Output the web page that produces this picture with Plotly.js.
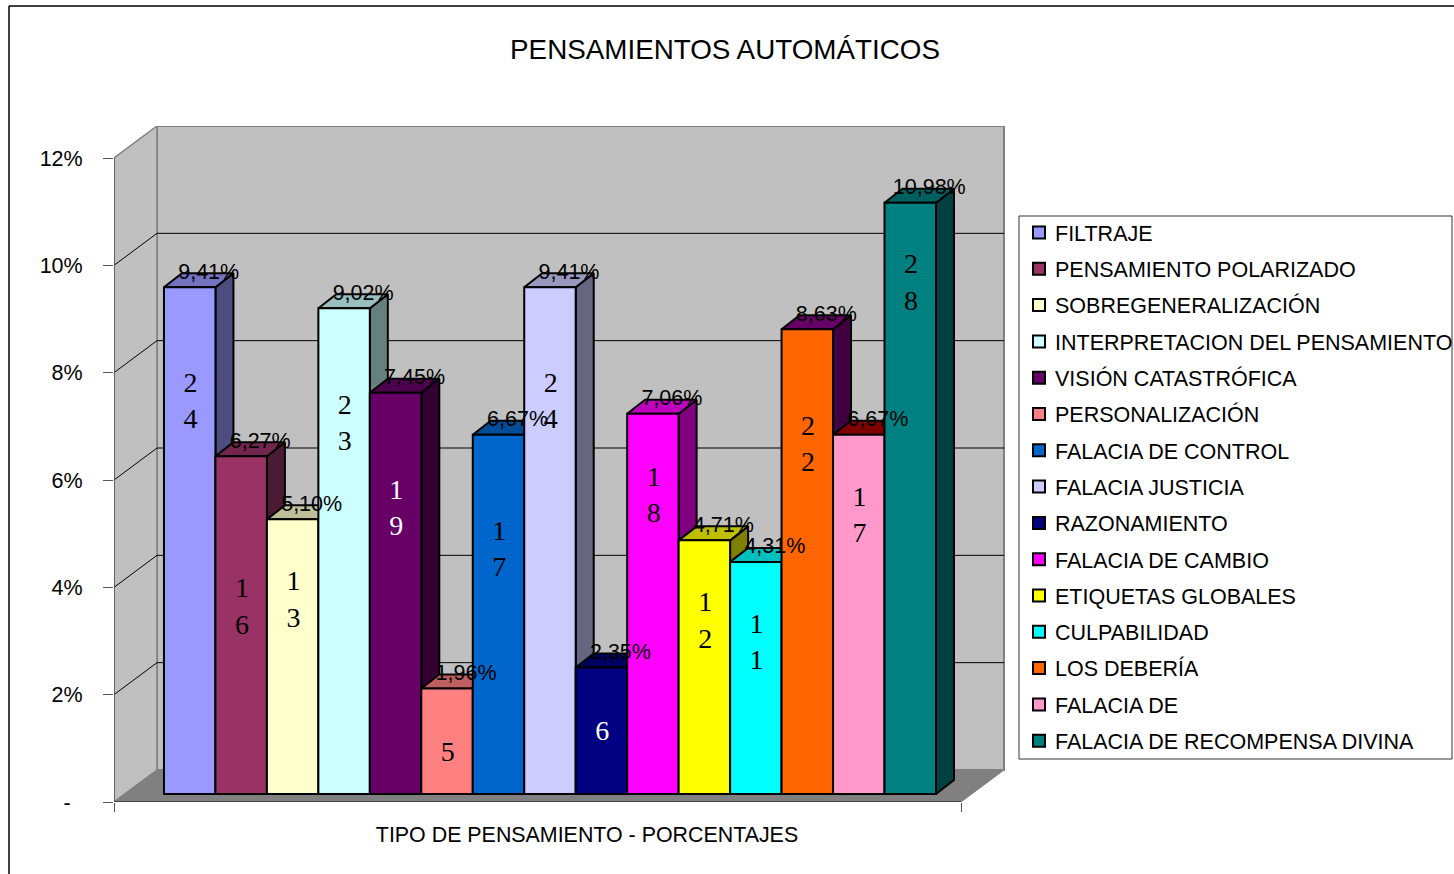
<!DOCTYPE html>
<html>
<head>
<meta charset="utf-8">
<script src="https://cdn.plot.ly/plotly-3.0.1.min.js"></script>
<style>html,body{margin:0;padding:0;background:#fff}#chart{width:1454px;height:874px}</style>
</head>
<body>
<div id="chart"></div>
<script>
// ---------- data ----------
const categories = ["FILTRAJE","PENSAMIENTO POLARIZADO","SOBREGENERALIZACIÓN","INTERPRETACION DEL PENSAMIENTO","VISIÓN CATASTRÓFICA","PERSONALIZACIÓN","FALACIA DE CONTROL","FALACIA JUSTICIA","RAZONAMIENTO","FALACIA DE CAMBIO","ETIQUETAS GLOBALES","CULPABILIDAD","LOS DEBERÍA","FALACIA DE","FALACIA DE RECOMPENSA DIVINA"];
const percentages = [9.41,6.27,5.10,9.02,7.45,1.96,6.67,9.41,2.35,7.06,4.71,4.31,8.63,6.67,10.98];
const counts = [24,16,13,23,19,5,17,24,6,18,12,11,22,17,28];
const percentLabels = ["9,41%","6,27%","5,10%","9,02%","7,45%","1,96%","6,67%","9,41%","2,35%","7,06%","4,71%","4,31%","8,63%","6,67%","10,98%"];
const yTickValues = [0,2,4,6,8,10,12];
const yTickLabels = ["-\u00a0\u00a0","2%","4%","6%","8%","10%","12%"];
const xAxisTitle = "TIPO DE PENSAMIENTO - PORCENTAJES";
const chartTitle = "PENSAMIENTOS AUTOMÁTICOS";

// ---------- styles ----------
const frontColors = ["#9999FF","#993366","#FFFFCC","#CCFFFF","#660066","#FF8080","#0066CC","#CCCCFF","#000080","#FF00FF","#FFFF00","#00FFFF","#FF6600","#FF99CC","#008080"];
const topOverride = {12:"#660066",13:"#800000"};
const sideOverride = {12:"#400040"};
const lightCounts = [4,8];
const countDrop = [116,152,82,117,117,66,116,116,66,83,82,82,117,82,82];
function shade(hex,f){const n=parseInt(hex.slice(1),16);
  const c=[n>>16&255,n>>8&255,n&255].map(v=>Math.round(v*f));
  return `rgb(${c[0]},${c[1]},${c[2]})`;}

// ---------- geometry of the projected box ----------
const plot={l:114,r:1060,t:126,b:802};
const pctPx=644/12, catPx=772/15, x0Px=189.7;
const toX=p=>(p-x0Px)/catPx, toY=p=>(plot.b-p)/pctPx;
const barBase=8/pctPx, barScale=1.0035;
const depX=18/catPx, depY=14/pctPx;
const xRange=[toX(plot.l),toX(plot.r)], yRange=[0,toY(plot.t)];
const F={family:'"Liberation Sans", Arial, sans-serif',color:'#000'};

const traces=[];
// side and top faces, painted left to right
percentages.forEach((v,i)=>{
  const h=barBase+v*barScale, r=i+0.5, l=i-0.5;
  traces.push({type:'scatter',mode:'lines',x:[r,r+depX,r+depX,r,r],y:[barBase,barBase+depY,h+depY,h,barBase],
    fill:'toself',fillcolor:sideOverride[i]||shade(frontColors[i],0.5),line:{color:'#000',width:2},showlegend:false,hoverinfo:'skip'});
  traces.push({type:'scatter',mode:'lines',x:[l,r,r+depX,l+depX,l],y:[h,h,h+depY,h+depY,h],
    fill:'toself',fillcolor:topOverride[i]||shade(frontColors[i],0.75),line:{color:'#000',width:2},showlegend:false,hoverinfo:'skip'});
});
// front faces on the overlay subplot, one named trace per category
categories.forEach((c,i)=>{
  traces.push({type:'bar',name:c,legendgroup:'g'+i,x:[i],y:[percentages[i]*barScale],base:barBase,width:1,xaxis:'x2',yaxis:'y2',
    marker:{color:frontColors[i],line:{color:'#000',width:2}},hoverinfo:'skip'});
});
traces.push({type:'scatter',mode:'text',xaxis:'x2',yaxis:'y2',showlegend:false,hoverinfo:'skip',cliponaxis:false,
  x:percentages.map((v,i)=>i+depX+0.02),
  y:percentages.map(v=>barBase+v*barScale+13.8/pctPx),
  text:percentLabels,textposition:'middle center',textfont:{family:F.family,size:21.5,color:'#000'}});
traces.push({type:'scatter',mode:'text',xaxis:'x2',yaxis:'y2',showlegend:false,hoverinfo:'skip',cliponaxis:false,
  x:counts.map((v,i)=>i+0.015),
  y:percentages.map((v,i)=>barBase+v*barScale-countDrop[i]/pctPx),
  text:counts.map(n=>String(n).split('').join('<br>')),textposition:'middle center',
  textfont:{family:'"Liberation Serif", "Times New Roman", serif',size:28,color:counts.map((n,i)=>lightCounts.includes(i)?'#fff':'#000')}});

// ---------- walls, floor, frame ----------
const wallDX=toX(157)-toX(114), wallDY=32/pctPx;
const xL=toX(114), xR=toX(961);
const poly=(pts,fill,color,width)=>({type:'path',xref:'x',yref:'y',layer:'below',
  path:'M'+pts.map(p=>p[0]+','+p[1]).join('L')+'Z',fillcolor:fill,line:{color:color,width:width}});
const seg=(x0,y0,x1,y1,color,width)=>({type:'line',xref:'x',yref:'y',layer:'below',x0,y0,x1,y1,line:{color,width}});
const pap=(px,py)=>[(px-plot.l)/(plot.r-plot.l),(plot.b-py)/(plot.b-plot.t)];
const shapes=[
  poly([[xL+wallDX,wallDY],[xR+wallDX,wallDY],[xR+wallDX,12+wallDY],[xL+wallDX,12+wallDY]],'#C0C0C0','#808080',2),
  poly([[xL,0],[xL+wallDX,wallDY],[xL+wallDX,12+wallDY],[xL,12]],'#C0C0C0','#808080',1.5),
];
yTickValues.slice(1,-1).forEach(v=>{
  shapes.push(seg(xL,v,xL+wallDX,v+wallDY,'#000',1));
  shapes.push(seg(xL+wallDX,v+wallDY,xR+wallDX,v+wallDY,'#000',1));
});
shapes.push(poly([[xL,0],[xL+wallDX,wallDY],[xR+wallDX,wallDY],[xR,0]],'#808080','#808080',1));
shapes.push(seg(xL,0,xR,0,'#333',1.5));
shapes.push(seg(xL,0,xL,12,'#555',1.5));
const fa=pap(9,874), fb=pap(9,6), fc=pap(1454,6);
shapes.push({type:'line',xref:'paper',yref:'paper',x0:fa[0],y0:fa[1],x1:fb[0],y1:fb[1],line:{color:'#000',width:1.5}});
shapes.push({type:'line',xref:'paper',yref:'paper',x0:fb[0],y0:fb[1],x1:fc[0],y1:fc[1],line:{color:'#000',width:1.5}});
const la=pap(1019,216), lb=pap(1452,759);
shapes.push({type:'rect',xref:'paper',yref:'paper',layer:'above',x0:la[0],y0:la[1],x1:lb[0],y1:lb[1],line:{color:'#333',width:1}});

const lp=pap(1019,212);
const layout={
  width:1454,height:874,autosize:false,paper_bgcolor:'#fff',plot_bgcolor:'rgba(0,0,0,0)',
  margin:{l:plot.l,r:1454-plot.r,t:plot.t,b:874-plot.b,pad:0,autoexpand:false},
  barmode:'overlay',bargap:0,font:{family:F.family,color:'#000',size:21},
  title:{text:chartTitle,x:725/1454,xref:'container',xanchor:'center',y:1-49/874,yref:'container',yanchor:'middle',font:{family:F.family,size:27.8,color:'#000'}},
  xaxis:{range:xRange,showgrid:false,zeroline:false,showline:false,tickmode:'array',tickvals:[xL,xR],ticktext:['',''],ticks:'outside',ticklen:9,tickwidth:1,tickcolor:'#555',
    title:{text:xAxisTitle,font:{family:F.family,size:21.4,color:'#000'},standoff:11},fixedrange:true},
  yaxis:{range:yRange,showgrid:false,zeroline:false,showline:false,tickmode:'array',tickvals:yTickValues,ticktext:yTickLabels,ticks:'outside',ticklen:10,tickwidth:1,tickcolor:'#555',
    ticklabelstandoff:16,tickfont:{family:F.family,size:21.5,color:'#000'},fixedrange:true},
  xaxis2:{range:xRange,overlaying:'x',visible:false,fixedrange:true},
  yaxis2:{range:yRange,overlaying:'y',visible:false,fixedrange:true},
  legend:{x:lp[0],y:lp[1],xanchor:'left',yanchor:'top',bgcolor:'rgba(0,0,0,0)',borderwidth:0,
    font:{family:F.family,size:21.5,color:'#000'},tracegroupgap:5.35,traceorder:'grouped',itemclick:false,itemdoubleclick:false},
  shapes:shapes,
  showlegend:true
};
Plotly.newPlot('chart',traces,layout,{displayModeBar:false,staticPlot:true}).then(gd=>{
  gd.querySelectorAll('.legendtext').forEach(t=>t.setAttribute('x','36'));
});
</script>
</body>
</html>
